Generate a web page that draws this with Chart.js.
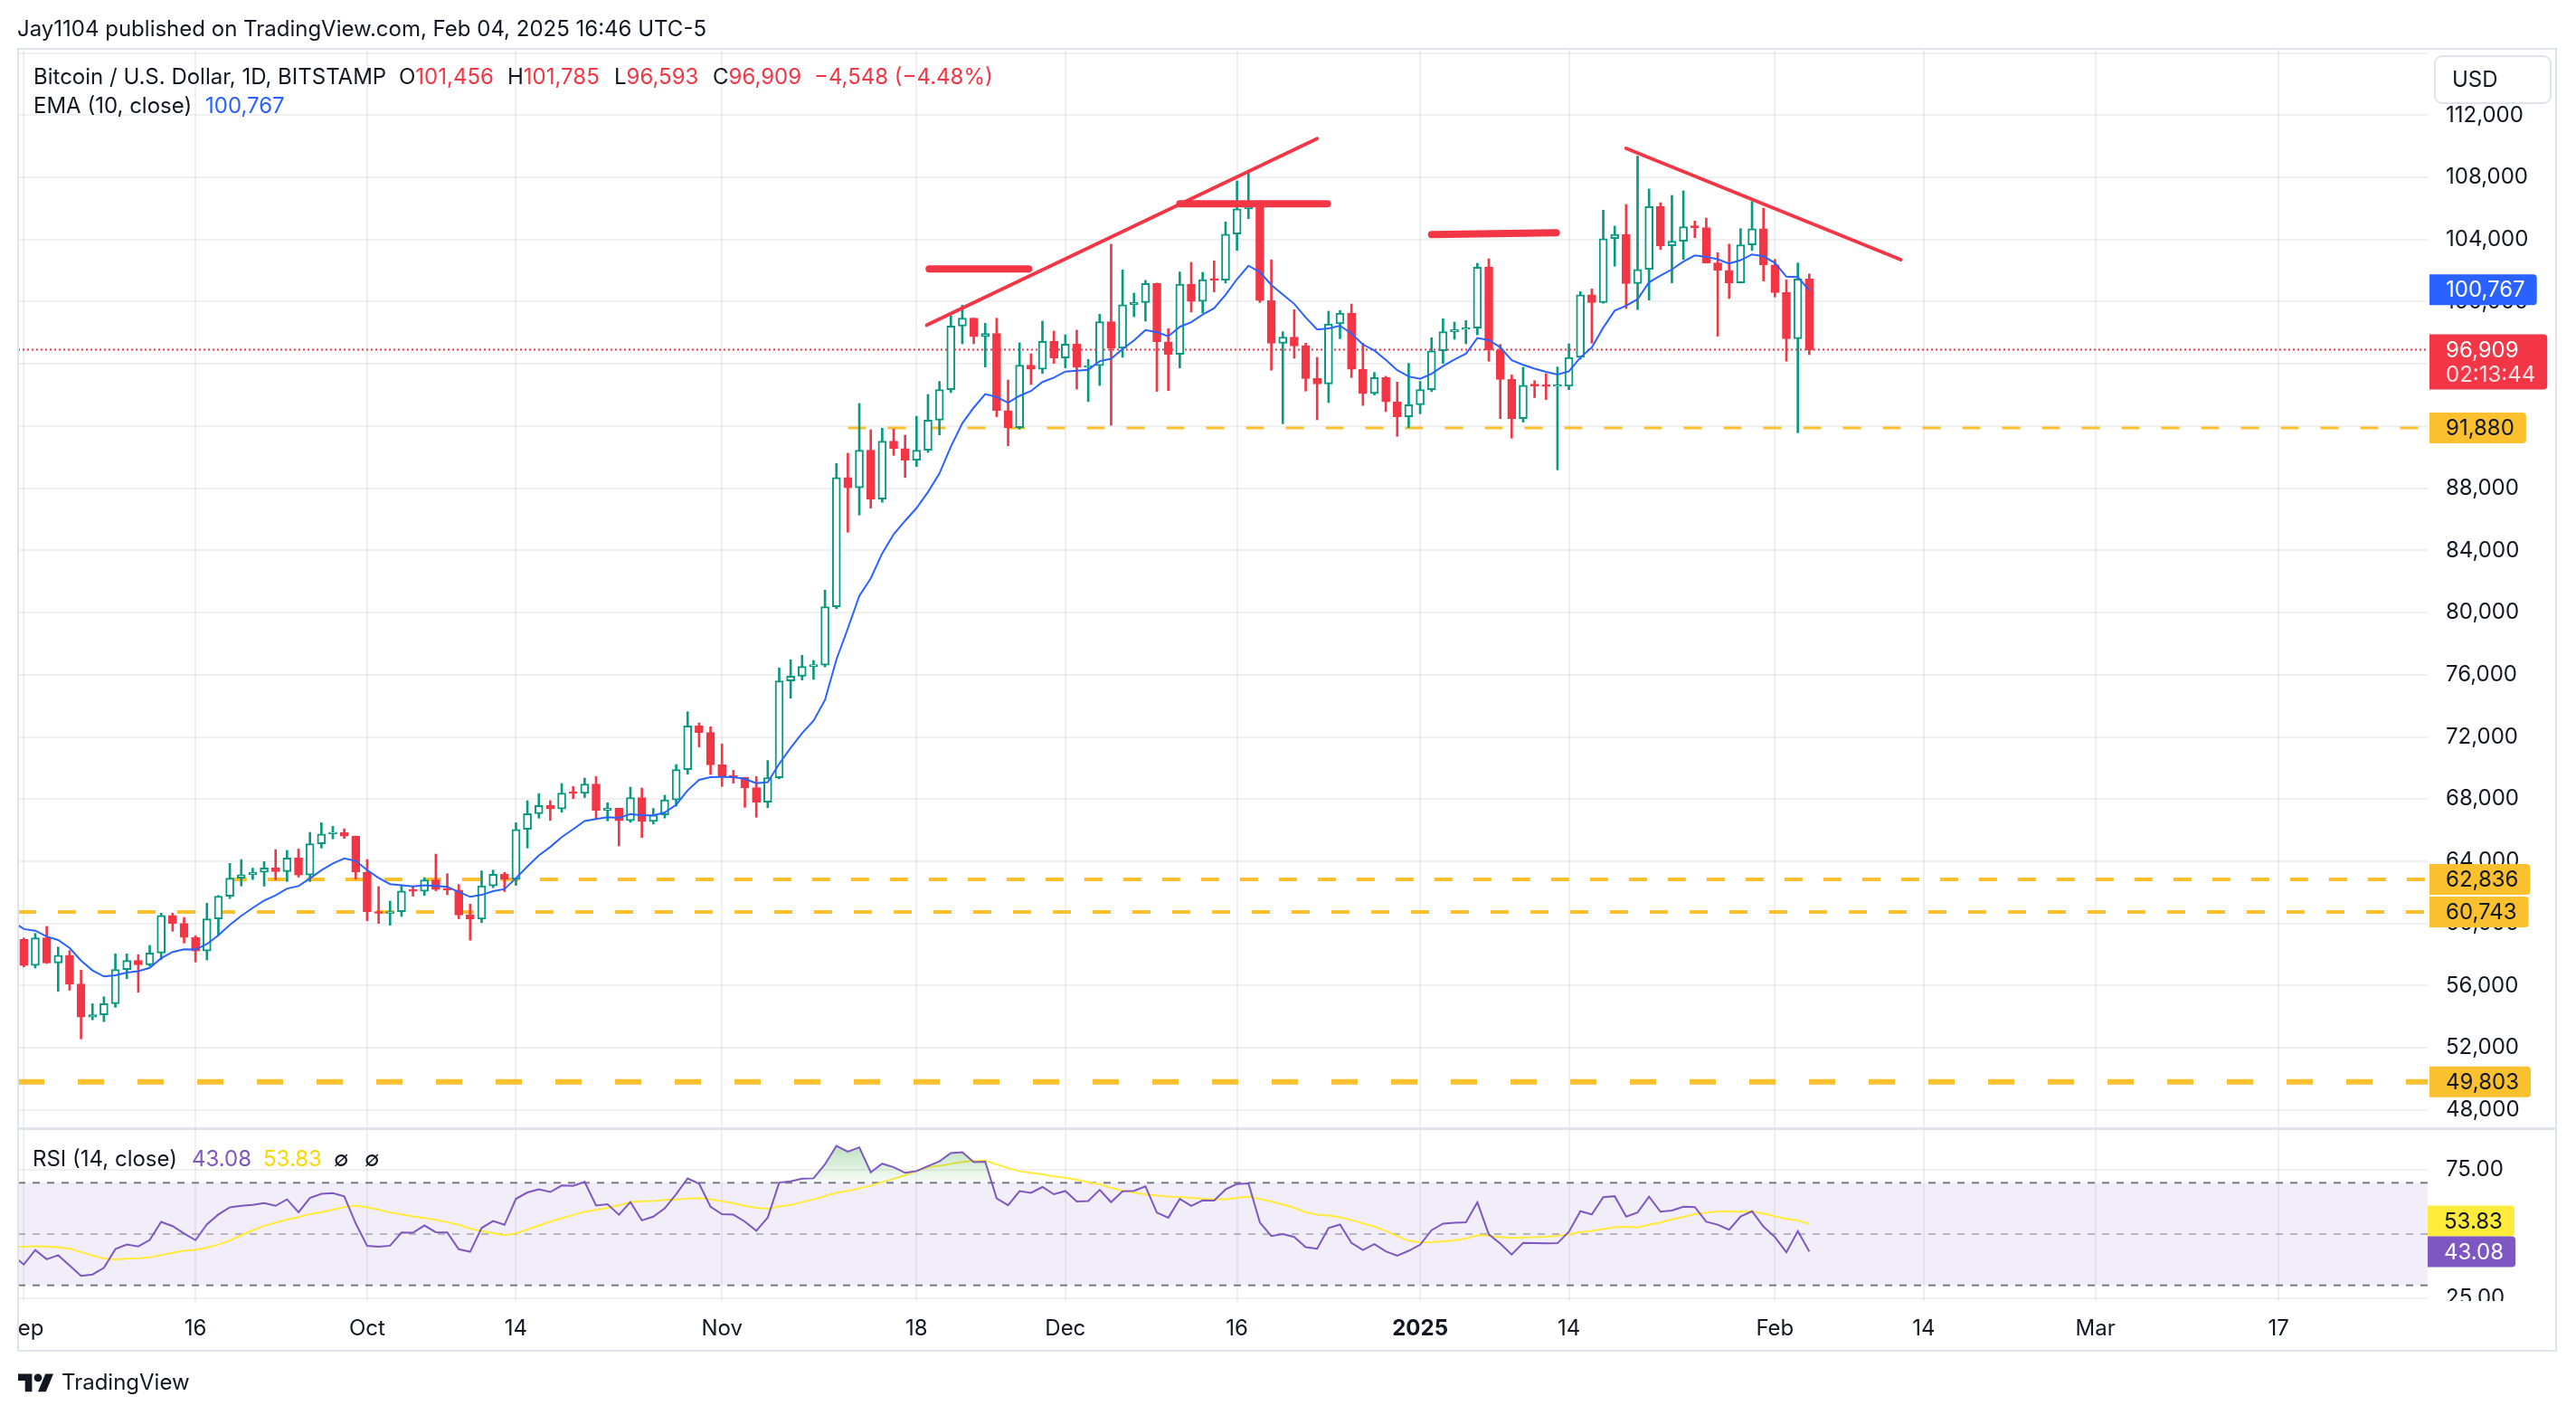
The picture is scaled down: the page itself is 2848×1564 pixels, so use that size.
<!DOCTYPE html>
<html><head><meta charset="utf-8"><title>BTCUSD 1D</title>
<script src="https://cdn.jsdelivr.net/npm/chart.js@4.4.1/dist/chart.umd.min.js"></script>
<style>
html,body{margin:0;padding:0;background:#fff;}
body{width:2848px;height:1564px;position:relative;overflow:hidden;font-family:Inter,"Noto Sans",Roboto,sans-serif;color:#131722;}
canvas{position:absolute;left:0;}
#pc{top:0;}
#rc{top:1249px;}
.tx{position:absolute;white-space:pre;line-height:30px;height:30px;font-size:24px;}
.frame{position:absolute;pointer-events:none;box-sizing:border-box;}
</style></head><body>
<canvas id="pc" width="2848" height="1250"></canvas>
<canvas id="rc" width="2848" height="315"></canvas>
<div class="frame" style="left:19px;top:53px;width:2808px;height:1441px;border:2px solid #E0E3EB"></div>
<div class="frame" style="left:19px;top:1246px;width:2808px;height:3px;background:#E0E3EB"></div>

<div class="tx" style="left:19px;top:17px">Jay1104 published on TradingView.com, Feb 04, 2025 16:46 UTC-5</div>

<div class="tx" style="left:37px;top:70px">Bitcoin / U.S. Dollar, 1D, BITSTAMP</div>
<div class="tx" style="left:441px;top:70px">O<span style="color:#F23645">101,456</span></div>
<div class="tx" style="left:561px;top:70px">H<span style="color:#F23645">101,785</span></div>
<div class="tx" style="left:679px;top:70px">L<span style="color:#F23645">96,593</span></div>
<div class="tx" style="left:788px;top:70px">C<span style="color:#F23645">96,909</span></div>
<div class="tx" style="left:900px;top:70px;color:#F23645">−4,548 (−4.48%)</div>
<div class="tx" style="left:37px;top:102px">EMA (10, close)</div>
<div class="tx" style="left:227px;top:102px;color:#2962FF">100,767</div>

<div class="tx" style="left:36px;top:1266px">RSI (14, close)</div>
<div class="tx" style="left:212px;top:1266px;color:#7E57C2">43.08</div>
<div class="tx" style="left:291px;top:1266px;color:#F5D90A">53.83</div>
<div class="tx" style="left:369px;top:1266px">∅</div>
<div class="tx" style="left:403px;top:1266px">∅</div>

<svg style="position:absolute;left:20px;top:1513.6px" width="39.6" height="30.8" viewBox="0 0 36 28"><path fill="#131722" d="M14 22H7V11H0V4h14v18zM28 22h-8l7.5-18h8L28 22z"/><circle fill="#131722" cx="20" cy="8" r="4"/></svg>
<div class="tx" style="left:68px;top:1513px">TradingView</div>

<script>
// ---------------- data ----------------
const dateTickDays   = [0, 15, 30, 43, 61, 78, 91, 106, 122, 135, 153, 166, 181, 197];
const dateTickLabels = ['Sep','16','Oct','14','Nov','18','Dec','16','2025','14','Feb','14','Mar','17'];
const priceTicks = [48000,52000,56000,60000,64000,68000,72000,76000,80000,84000,88000,92000,96000,100000,104000,108000,112000,116000];
const rsiTicks = [25, 75];
const rsiBands = [70, 50, 30];

// Aug 2024 closes, used only to warm up the indicators
const warmupCloses = [65350,61460,60680,58100,53990,56030,55120,61700,60880,60940,58710,59350,60600,58740,57560,58880,59480,58450,59490,59000,61170,60380,64090,64180,64240,62830,59420,59030,59380,59120,58970];

// Daily candles, Sep 1 2024 .. Feb 4 2025
const opens = [
 58970,57300,59070,57460,57950,56100,53970,54120,54840,57030,57620,57330,58100,60520,60000,59100,58230,60290,61750,62910,63140,63290,63570,63330,64210,63120,65120,65760,65860,65620,
 63300,60760,60650,60750,62090,62060,62800,62180,62150,60540,60270,62420,63160,62830,66050,67060,67580,67370,68390,68360,68970,67260,67410,66600,68100,66560,66980,67950,69900,72710,72280,
 70200,69450,69400,68730,67800,69370,75600,75910,76530,76620,80370,88690,88020,90440,87300,91030,90550,89800,90440,92380,94340,98430,98940,97740,97950,93000,91900,95920,95650,97440,
 96380,97270,95780,95880,98710,97000,99810,99950,101170,97420,96610,101130,100010,101420,101380,104350,105980,106180,100070,97330,97720,97150,95060,94710,98570,99270,95650,94090,95120,93550,92600,
 93370,94340,96840,98070,98210,98300,102220,96900,95000,92480,94630,94580,94540,94560,96420,100450,99950,104060,104330,101170,102080,106120,103600,103890,104820,104760,102490,102020,101210,103660,104700,
 102370,100590,97620,101456];
const highs = [
 59060,59360,59810,58480,58250,56990,54840,55280,58040,58040,57990,58580,60660,60660,60390,59210,61300,61800,63860,64110,63560,63980,64750,64700,64790,65860,66480,66250,66090,65620,
 64110,62370,61440,62480,62370,62950,64460,63200,62500,61240,63380,63430,63290,66480,67900,68350,67900,69000,68810,69350,69450,67760,67410,68770,68710,67400,68250,70220,73620,72900,72650,
 71550,69850,69400,69450,70480,76440,76960,77250,76920,81450,89590,90250,93450,91760,91860,91800,91410,92630,94030,94870,99100,99780,98940,98610,98940,94960,97350,96650,98750,98110,
 97870,98170,96280,99190,103700,102050,100550,101370,101200,98260,101910,102530,101890,102630,105130,107770,108350,106500,102690,98070,99490,97330,96420,99390,99430,99850,97330,95450,95200,94830,96030,
 94870,97680,98900,98690,98790,102470,102760,97250,95290,95780,94920,95370,95800,97290,100650,100820,105890,104860,106250,109360,107250,106370,106840,107130,105190,105380,103150,103700,104700,106450,106020,
 102720,101400,102490,101785];
const lows = [
 57200,57130,57420,55630,55700,52570,53800,53680,54600,56450,55570,57250,57670,59500,58740,57520,57650,59220,61600,62410,62820,62400,62800,62700,62980,62700,64850,65440,65470,62850,
 60170,60000,59880,60450,61750,61800,62100,61850,60300,58920,60050,62300,62050,62450,64850,66770,66630,67150,68030,68100,66740,66600,64990,66500,65530,66400,66780,67550,69600,71350,69580,
 68810,69020,67470,66830,67450,69300,74490,75660,75700,76500,80250,85170,86270,86720,87100,90110,88690,89400,90300,91430,94150,97290,97290,95800,92600,90730,91800,94670,95390,96030,
 95740,94380,93570,94610,92050,96420,99040,98750,94230,94280,95740,99330,99270,100630,101200,103300,105340,99950,95590,92150,96360,94250,92400,93510,97620,95120,93320,94000,92930,91340,91900,
 92790,94220,96030,97580,97290,97870,96170,92480,91220,92250,93830,93700,89180,94340,96300,97330,99900,102280,99560,99490,100100,103350,101210,102720,104120,102480,97780,100200,101200,103300,101330,
 100300,96170,91570,96593];
const closes = [
 57300,59070,57460,57950,56100,53970,54120,54840,57030,57620,57330,58100,60520,60000,59100,58230,60290,61750,62910,63140,63290,63570,63330,64210,63120,65120,65760,65860,65620,63300,
 60760,60650,60750,62090,62060,62800,62180,62150,60540,60270,62420,63160,62830,66050,67060,67580,67370,68390,68360,68970,67260,67410,66600,68100,66560,66980,67950,69900,72710,72280,70200,
 69450,69400,68730,67800,69370,75600,75910,76530,76620,80370,88690,88020,90440,87300,91030,90550,89800,90440,92380,94340,98430,98940,97740,97950,93000,91900,95920,95650,97440,96380,
 97270,95780,95880,98710,97000,99810,99950,101170,97420,96610,101130,100010,101420,101380,104350,105980,106180,100070,97330,97720,97150,95060,94710,98570,99270,95650,94090,95120,93550,92600,93370,
 94340,96840,98070,98210,98300,102220,96900,95000,92480,94630,94580,94540,94560,96420,100450,99950,104060,104330,101170,102080,106120,103600,103890,104820,104760,102490,102020,101210,103660,104700,102370,
 100590,97620,101457,96909];

// horizontal levels drawn on the chart (price, first day)
const levelPrices    = [91880, 62836, 60743, 49803];
const levelStartDays = [72.0, 17.9, -0.5, -0.5];
// hand-drawn red annotations: [[day, price], [day, price]]
const trendLines = [
  [[79.1, 102105], [87.8, 102105]],
  [[78.9, 98496],  [113.0, 110487]],
  [[101.0, 106296],[113.9, 106296]],
  [[123.0, 104317],[133.9, 104433]],
  [[140.0, 109864],[164.0, 102704]]
];
const lastPrice = 96909, countdown = '02:13:44';
const emaLast = 100767, rsiLast = 43.08, rsiMaLast = 53.83;

// ---------------- indicators ----------------
const W = warmupCloses.length;
const allCloses = warmupCloses.concat(closes);
function emaCalc(v, n){ const k=2/(n+1); const out=[]; let prev=null;
  for(let i=0;i<v.length;i++){ if(i<n-1){out.push(null);continue;}
    if(i===n-1){ let s=0; for(let j=0;j<n;j++) s+=v[j]; prev=s/n; }
    else prev = v[i]*k + prev*(1-k);
    out.push(prev);} return out; }
function rsiCalc(v, n){ const out=[null]; let ag=0, al=0;
  for(let i=1;i<v.length;i++){ const d=v[i]-v[i-1], g=Math.max(d,0), l=Math.max(-d,0);
    if(i<n){ ag+=g; al+=l; out.push(null); continue; }
    if(i===n){ ag=(ag+g)/n; al=(al+l)/n; }
    else { ag=(ag*(n-1)+g)/n; al=(al*(n-1)+l)/n; }
    out.push(al===0?100:100-100/(1+ag/al)); } return out; }
function smaCalc(v, n){ const out=[]; for(let i=0;i<v.length;i++){ const w=v.slice(Math.max(0,i-n+1),i+1);
  if(w.length<n || w.some(x=>x===null)){out.push(null);continue;} out.push(w.reduce((a,b)=>a+b,0)/n);} return out; }
const emaAll = emaCalc(allCloses, 10);
const rsiAll = rsiCalc(allCloses, 14);
const rsiMaAll = smaCalc(rsiAll, 14);
function series(arr){ const out=[]; for(let j=W-1;j<arr.length;j++){ if(arr[j]!==null) out.push({x:j-W, y:arr[j]}); } return out; }

// ---------------- styling / layout ----------------
const GREEN='#089981', RED='#F23645', BLUE='#2962FF', ORANGE='#FBC02D', PURPLE='#7E57C2', YELLOW='#FFEB3B';
const GRID='rgba(42,46,57,0.07)', TEXT='#131722';
const FONT='Inter, "Noto Sans", Roboto, sans-serif';
const FS=24;
const XMIN=-0.5, XMAX=210.03;
Chart.defaults.font.family = FONT;
Chart.defaults.font.size = FS;
Chart.defaults.color = TEXT;

const upColor = closes.map((c,i)=> c >= (i ? closes[i-1] : opens[i]) ? GREEN : RED);
const hollow  = closes.map((c,i)=> c >= opens[i]);

function xTicks(s){ s.ticks = dateTickDays.map(v=>({value:v})); }
function noPad(s){ s.paddingTop=0; s.paddingBottom=0; s.paddingLeft=0; s.paddingRight=0; }
function fitH(h){ return s=>{ s.height=h; noPad(s); }; }
function fitW(w){ return s=>{ s.width=w; noPad(s); }; }

function tagBox(ctx, left, yC, lines, bg, fg, sub){
  ctx.save();
  ctx.font = FS + 'px ' + FONT;
  const tw = Math.max(...lines.map(t=>ctx.measureText(t).width));
  const w = tw + 31, h = 34 + (lines.length-1)*27;
  ctx.fillStyle = bg; ctx.beginPath();
  if (ctx.roundRect) ctx.roundRect(left, yC-17, w, h, [0,4,4,0]); else ctx.rect(left, yC-17, w, h);
  ctx.fill();
  ctx.textBaseline='middle'; ctx.textAlign='left';
  lines.forEach((t,i)=>{ ctx.fillStyle = i===0 ? fg : (sub||fg); ctx.fillText(t, left+18, yC + i*27 + 1); });
  ctx.restore();
}

const priceTags = {
  id:'priceTags',
  afterDraw(chart){
    const ctx=chart.ctx, y=chart.scales.y, a=chart.chartArea, L=a.right+2;
    levelPrices.forEach(p=> tagBox(ctx, L, y.getPixelForValue(p), [p.toLocaleString('en-US')], ORANGE, TEXT));
    tagBox(ctx, L, y.getPixelForValue(emaLast), [emaLast.toLocaleString('en-US')], BLUE, '#fff');
    tagBox(ctx, L, y.getPixelForValue(lastPrice), [lastPrice.toLocaleString('en-US'), countdown], RED, '#fff', 'rgba(255,255,255,0.85)');
    ctx.save();
    ctx.fillStyle='#fff'; ctx.strokeStyle='#E0E3EB'; ctx.lineWidth=2;
    ctx.beginPath(); if(ctx.roundRect) ctx.roundRect(2692, 62, 128, 52, 8); else ctx.rect(2692,62,128,52);
    ctx.fill(); ctx.stroke();
    ctx.fillStyle=TEXT; ctx.font=FS+'px '+FONT; ctx.textBaseline='middle'; ctx.textAlign='left';
    ctx.fillText('USD', 2711, 89);
    ctx.restore();
  }
};

const lineDs = (data, color, width, extra) => Object.assign({type:'line', data, borderColor:color, borderWidth:width, pointRadius:0, pointHoverRadius:0, tension:0, clip:0, fill:false}, extra||{});

const priceDatasets = [];
priceDatasets.push(lineDs([{x:XMIN,y:lastPrice},{x:XMAX,y:lastPrice}], RED, 2, {borderDash:[2,3], order:6}));
const levelStyles = [{w:3,d:[20,24]},{w:4,d:[20,23]},{w:4,d:[20,24]},{w:6,d:[29,37]}];
levelPrices.forEach((p,i)=> priceDatasets.push(lineDs([{x:levelStartDays[i],y:p},{x:XMAX,y:p}], ORANGE, levelStyles[i].w, {borderDash:levelStyles[i].d, order:5})));
priceDatasets.push({type:'bar', data: closes.map((c,i)=>({x:i, y:[lows[i], highs[i]]})), backgroundColor: upColor, borderWidth:0, barThickness:2, grouped:false, order:4, clip:0});
priceDatasets.push({type:'bar', data: closes.map((c,i)=>({x:i, y:[opens[i], c]})), backgroundColor: hollow.map((h,i)=> h ? '#ffffff' : upColor[i]), borderColor: upColor, borderWidth:2, borderSkipped:false, barThickness:9, minBarLength:2, grouped:false, order:3, clip:0});
priceDatasets.push(lineDs(series(emaAll), BLUE, 2, {order:2}));
const trendWidths = [8, 4, 8, 8, 4];
trendLines.forEach((t,i)=> priceDatasets.push(lineDs(t.map(p=>({x:p[0], y:p[1]})), RED, trendWidths[i], {borderCapStyle:'round', order:1})));

new Chart(document.getElementById('pc'), {
  type:'bar',
  data:{datasets: priceDatasets},
  options:{
    responsive:false, animation:false, devicePixelRatio:1,
    layout:{autoPadding:false, padding:{left:20, top:55, right:22, bottom:4}},
    plugins:{legend:{display:false}, tooltip:{enabled:false}},
    scales:{
      x:{type:'linear', min:XMIN, max:XMAX, offset:false, afterBuildTicks:xTicks,
         ticks:{display:false}, grid:{color:GRID, drawTicks:false, offset:false, lineWidth:2}, border:{display:false},
         afterFit:fitH(0)},
      y:{type:'linear', position:'right', min:46884, max:116208,
         afterBuildTicks:s=>{s.ticks=priceTicks.map(v=>({value:v}));},
         ticks:{padding:20, color:TEXT, font:{size:FS}, callback:v=> v>112000 ? '' : v.toLocaleString('en-US')},
         grid:{color:GRID, drawTicks:false, lineWidth:2}, border:{display:false},
         afterFit:fitW(142)}
    }
  },
  plugins:[priceTags]
});

// ---------------- RSI pane ----------------
const rsiBand = {
  id:'rsiBand',
  beforeDatasetsDraw(chart){
    const ctx=chart.ctx, y=chart.scales.y, a=chart.chartArea;
    const t=y.getPixelForValue(rsiBands[0]), b=y.getPixelForValue(rsiBands[2]);
    ctx.save(); ctx.fillStyle='rgba(126,87,194,0.1)'; ctx.fillRect(a.left, t, a.right-a.left, b-t); ctx.restore();
  },
  afterDraw(chart){
    const ctx=chart.ctx, y=chart.scales.y, a=chart.chartArea, L=a.right;
    ctx.save(); ctx.fillStyle='#fff';
    ctx.fillRect(0, a.bottom, 21, 130);
    ctx.fillRect(a.right, a.bottom, 150, 60);
    ctx.restore();
    const yP = y.getPixelForValue(rsiLast);
    let yY = y.getPixelForValue(rsiMaLast);
    if (yP - yY < 34) yY = yP - 34;
    tagBox(ctx, L, yY, [rsiMaLast.toFixed(2)], YELLOW, TEXT);
    tagBox(ctx, L, yP, [rsiLast.toFixed(2)], PURPLE, '#fff');
  }
};

const rsiDatasets = [
  lineDs([{x:XMIN,y:rsiBands[0]},{x:XMAX,y:rsiBands[0]}], '#787B86', 2, {borderDash:[8,8], order:5}),
  lineDs([{x:XMIN,y:rsiBands[1]},{x:XMAX,y:rsiBands[1]}], 'rgba(120,123,134,0.5)', 2, {borderDash:[8,8], order:5}),
  lineDs([{x:XMIN,y:rsiBands[2]},{x:XMAX,y:rsiBands[2]}], '#787B86', 2, {borderDash:[8,8], order:5}),
  lineDs(series(rsiMaAll), YELLOW, 2, {order:2}),
  lineDs(series(rsiAll), PURPLE, 2, {order:1, fill:{target:{value:70}, above:'rgba(76,175,80,0.22)', below:'rgba(0,0,0,0)'}})
];

const rsiChart = new Chart(document.getElementById('rc'), {
  type:'line',
  data:{datasets: rsiDatasets},
  options:{
    responsive:false, animation:false, devicePixelRatio:1,
    layout:{autoPadding:false, padding:{left:20, top:0, right:22, bottom:71}},
    plugins:{legend:{display:false}, tooltip:{enabled:false}, filler:{propagate:false}},
    scales:{
      x:{type:'linear', min:XMIN, max:XMAX, offset:false, afterBuildTicks:xTicks,
         ticks:{autoSkip:false, maxRotation:0, padding:16.6, color:TEXT,
                font:c=>({size:FS, lineHeight:1.2, weight:(c.tick && c.tick.value===122)?'bold':'normal'}),
                callback:(v,i)=>dateTickLabels[i]},
         grid:{color:GRID, drawTicks:false, offset:false, lineWidth:2}, border:{display:false},
         afterFit:fitH(55)},
      y:{type:'linear', position:'right', min:23.88, max:90.59,
         afterBuildTicks:s=>{s.ticks=rsiTicks.map(v=>({value:v}));},
         ticks:{padding:20, color:TEXT, callback:v=>v.toFixed(2)},
         grid:{color:GRID, drawTicks:false, lineWidth:2}, border:{display:false},
         afterFit:fitW(142)}
    }
  },
  plugins:[rsiBand]
});
// overbought gradient fill (green fading down to the 70 band)
(function(){
  const ys = rsiChart.scales.y;
  const g = rsiChart.ctx.createLinearGradient(0, ys.getPixelForValue(88), 0, ys.getPixelForValue(70));
  g.addColorStop(0, 'rgba(76,175,80,0.45)');
  g.addColorStop(1, 'rgba(76,175,80,0.04)');
  rsiChart.data.datasets[4].fill.above = g;
  rsiChart.update('none');
})();
</script>
</body></html>
